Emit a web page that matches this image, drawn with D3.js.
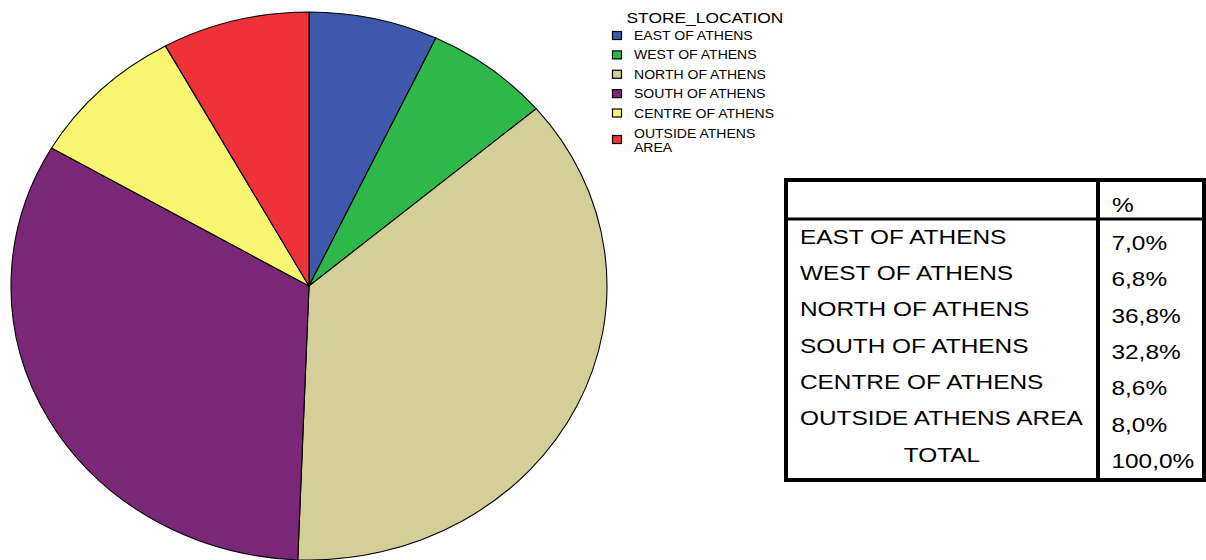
<!DOCTYPE html>
<html>
<head>
<meta charset="utf-8">
<script src="https://cdn.jsdelivr.net/npm/d3@7"></script>
<style>
  html, body { margin: 0; padding: 0; background: #fff; }
  svg { display: block; font-family: Arial, "Liberation Sans", sans-serif; }
</style>
</head>
<body>
<svg id="chart" width="1206" height="560"></svg>
<script>
// Store locations and their share of stores (%)
const categories = ["EAST OF ATHENS", "WEST OF ATHENS", "NORTH OF ATHENS", "SOUTH OF ATHENS", "CENTRE OF ATHENS", "OUTSIDE ATHENS AREA"];
const percents = [7.0, 6.8, 36.8, 32.8, 8.6, 8.0];
const sliceColors = ["#3e58ab", "#2fb84a", "#d4ce98", "#7a2778", "#f9f771", "#ef323a"];
// Legend entries (long names broken over two lines)
const legendLines = [["EAST OF ATHENS"], ["WEST OF ATHENS"], ["NORTH OF ATHENS"], ["SOUTH OF ATHENS"], ["CENTRE OF ATHENS"], ["OUTSIDE ATHENS", "AREA"]];
const legendTitle = "STORE_LOCATION";
const tableHeader = "%";
const totalLabel = "TOTAL";

const svg = d3.select("#chart");

const color = d3.scaleOrdinal().domain(categories).range(sliceColors);
const fmt = v => d3.format(".1f")(v).replace(".", ",") + "%";

// Places a text at (x, y), widened horizontally by sx
function wideText(sel, x, y, sx) {
  return sel.attr("transform", `translate(${x},${y}) scale(${sx},1)`);
}

// ---- Pie ----
const cx = 309, cy = 286, rx = 298, ry = 274;
const pie = d3.pie().sort(null).value(d => d.value);
const arc = d3.arc().innerRadius(0).outerRadius(ry);
const pieData = pie(categories.map((c, i) => ({ name: c, value: percents[i] })));

const pieG = svg.append("g")
  .attr("transform", `translate(${cx},${cy}) scale(${rx / ry},1)`);
pieG.selectAll("path")
  .data(pieData)
  .join("path")
  .attr("d", arc)
  .attr("fill", d => color(d.data.name))
  .attr("stroke", "#000")
  .attr("stroke-width", 1.1)
  .attr("vector-effect", "non-scaling-stroke")
  .attr("stroke-linejoin", "round");

// ---- Legend ----
const legend = svg.append("g");
wideText(legend.append("text"), 626.5, 23, 1.16)
  .attr("font-size", 15)
  .attr("fill", "#000")
  .text(legendTitle);

const legendY = d3.scalePoint().domain(d3.range(5)).range([35.5, 113]);
const rowCenter = i => i < 5 ? legendY(i) : 139.5;

const items = legend.selectAll("g.item")
  .data(categories)
  .join("g")
  .attr("class", "item")
  .attr("transform", (d, i) => `translate(0,${rowCenter(i)})`);
items.append("rect")
  .attr("x", 612.5).attr("y", -4)
  .attr("width", 9).attr("height", 8)
  .attr("fill", d => color(d))
  .attr("stroke", "#000")
  .attr("stroke-width", 1.2);
items.each(function (d, i) {
  const lines = legendLines[i];
  lines.forEach((ln, j) => {
    wideText(d3.select(this).append("text"), 634, lines.length === 1 ? 4.5 : -2 + j * 14.5, 1.08)
      .attr("font-size", 13)
      .attr("fill", "#000")
      .text(ln);
  });
});

// ---- Table ----
const tX0 = 786, tX1 = 1204, tY0 = 180, tY1 = 480, colX = 1098, headY = 219;
const tableSx = 1.19, tableFont = 20.5;
const table = svg.append("g");
const rowLabels = categories.concat([totalLabel]);
const rowValues = percents.concat([d3.sum(percents)]);
const rowY = d3.scaleLinear().domain([0, 6]).range([243.5, 461.5]);

wideText(table.append("text"), 1112, 212, tableSx)
  .attr("font-size", tableFont)
  .text(tableHeader);

table.selectAll("text.lab")
  .data(rowLabels)
  .join("text")
  .attr("class", "lab")
  .attr("transform", (d, i) => `translate(${i < 6 ? 800 : (tX0 + colX) / 2},${rowY(i)}) scale(${tableSx},1)`)
  .attr("text-anchor", (d, i) => i < 6 ? "start" : "middle")
  .attr("font-size", tableFont)
  .text(d => d);

table.selectAll("text.val")
  .data(rowValues)
  .join("text")
  .attr("class", "val")
  .attr("transform", (d, i) => `translate(1111.5,${rowY(i) + 6.5}) scale(${tableSx},1)`)
  .attr("font-size", tableFont)
  .text(d => fmt(d));

table.append("rect")
  .attr("x", tX0).attr("y", tY0)
  .attr("width", tX1 - tX0).attr("height", tY1 - tY0)
  .attr("fill", "none").attr("stroke", "#000").attr("stroke-width", 4);
table.append("line")
  .attr("x1", tX0).attr("x2", tX1).attr("y1", headY).attr("y2", headY)
  .attr("stroke", "#000").attr("stroke-width", 3);
table.append("line")
  .attr("x1", colX).attr("x2", colX).attr("y1", tY0).attr("y2", tY1)
  .attr("stroke", "#000").attr("stroke-width", 4);
</script>
</body>
</html>
